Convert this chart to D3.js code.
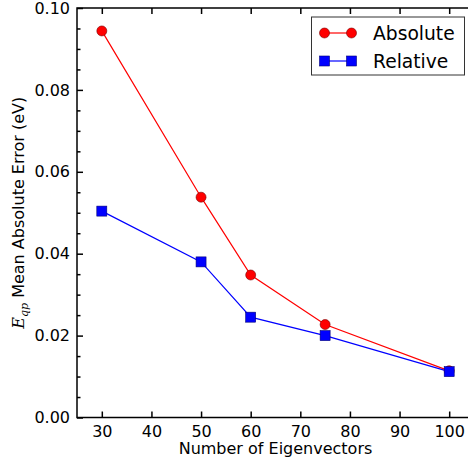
<!DOCTYPE html>
<html>
<head>
<meta charset="utf-8">
<script src="https://cdn.jsdelivr.net/npm/d3@7"></script>
<style>
body { margin: 0; background: #fff; }
text { font-family: "DejaVu Sans", sans-serif; fill: #000; }
</style>
</head>
<body>
<script>
const width = 468, height = 458;

const eigenvectors = [30, 50, 60, 75, 100];
const absoluteErr = [0.0944, 0.0538, 0.0348, 0.0227, 0.0114];
const relativeErr = [0.0504, 0.0380, 0.0245, 0.0200, 0.0112];
const xTicks = [30, 40, 50, 60, 70, 80, 90, 100];
const yTicks = [0.00, 0.02, 0.04, 0.06, 0.08, 0.10];
const seriesNames = ["Absolute", "Relative"];

const plotLeft = 77, plotTop = 8, plotRight = 474, plotBottom = 417.5;

const svg = d3.select("body").append("svg")
  .attr("width", width)
  .attr("height", height);

const scaleX = d3.scaleLinear().domain([25, 105]).range([plotLeft, plotRight]);
const scaleY = d3.scaleLinear().domain([0, 0.10]).range([plotBottom, plotTop]);

// frame
svg.append("rect")
  .attr("x", plotLeft).attr("y", plotTop)
  .attr("width", plotRight - plotLeft).attr("height", plotBottom - plotTop)
  .attr("fill", "none").attr("stroke", "#000").attr("stroke-width", 1.5);

// bottom axis (ticks inward)
const axisX = d3.axisBottom(scaleX).tickValues(xTicks).tickSizeInner(-6).tickSizeOuter(0).tickPadding(8);
svg.append("g")
  .attr("class", "axisX")
  .attr("transform", `translate(0, ${plotBottom})`)
  .call(axisX);

// top ticks
const axisTop = d3.axisTop(scaleX).tickValues(xTicks).tickSizeInner(-6).tickSizeOuter(0).tickFormat("");
svg.append("g")
  .attr("class", "axisTop")
  .attr("transform", `translate(0, ${plotTop})`)
  .call(axisTop);

// left axis
const axisY = d3.axisLeft(scaleY).tickValues(yTicks).tickSizeInner(-6).tickSizeOuter(0)
  .tickPadding(7).tickFormat(d3.format(".2f"));
svg.append("g")
  .attr("class", "axisY")
  .attr("transform", `translate(${plotLeft}, 0)`)
  .call(axisY);

// minor y ticks
const minorY = d3.range(0.005, 0.1, 0.005).filter(v => Math.abs(v / 0.02 - Math.round(v / 0.02)) > 1e-6);
svg.append("g")
  .attr("class", "minorY")
  .attr("transform", `translate(${plotLeft}, 0)`)
  .call(d3.axisLeft(scaleY).tickValues(minorY).tickSizeInner(-3.5).tickSizeOuter(0).tickFormat(""));

svg.selectAll(".domain").remove();
svg.selectAll(".tick line").attr("stroke", "#000").attr("stroke-width", 1.5);
svg.selectAll(".axisX text, .axisY text")
  .style("font-family", "DejaVu Sans, sans-serif")
  .style("font-size", "16px")
  .attr("fill", "#000");

// axis labels
svg.append("text")
  .attr("x", (plotLeft + plotRight) / 2)
  .attr("y", 453.5)
  .attr("text-anchor", "middle")
  .style("font-size", "16px")
  .text("Number of Eigenvectors");

const yl = svg.append("text")
  .attr("transform", `translate(24, ${(plotTop + plotBottom) / 2}) rotate(-90)`)
  .attr("text-anchor", "middle")
  .style("font-size", "16px");
yl.append("tspan").style("font-family", "DejaVu Serif, serif").style("font-style", "italic").text("E");
yl.append("tspan").attr("dy", 4).style("font-family", "DejaVu Serif, serif").style("font-style", "italic")
  .style("font-size", "11px").text("qp");
yl.append("tspan").attr("dy", -4).text(" Mean Absolute Error (eV)");

const line = d3.line()
  .x((d, i) => scaleX(eigenvectors[i]))
  .y(d => scaleY(d));

const colors = ["#ff0000", "#0000ff"];
const allSeries = [absoluteErr, relativeErr];

allSeries.forEach((vals, k) => {
  svg.append("path")
    .attr("d", line(vals))
    .attr("fill", "none")
    .attr("stroke", colors[k])
    .attr("stroke-width", 1.2);
});

// markers
svg.selectAll(".dotAbs")
  .data(absoluteErr)
  .enter()
  .append("circle")
  .attr("class", "dotAbs")
  .attr("cx", (d, i) => scaleX(eigenvectors[i]))
  .attr("cy", d => scaleY(d))
  .attr("r", 5)
  .attr("fill", colors[0])
  .attr("stroke", "#700")
  .attr("stroke-width", 0.6);

svg.selectAll(".dotRel")
  .data(relativeErr)
  .enter()
  .append("rect")
  .attr("class", "dotRel")
  .attr("x", (d, i) => scaleX(eigenvectors[i]) - 5)
  .attr("y", d => scaleY(d) - 5)
  .attr("width", 10)
  .attr("height", 10)
  .attr("fill", colors[1])
  .attr("stroke", "#007")
  .attr("stroke-width", 0.6);

// legend
const lg = svg.append("g").attr("transform", "translate(311.5, 17)");
lg.append("rect")
  .attr("x", 0).attr("y", 0)
  .attr("width", 153).attr("height", 58)
  .attr("fill", "#fff").attr("stroke", "#333").attr("stroke-width", 1);

seriesNames.forEach((name, k) => {
  const yy = 16 + k * 28;
  lg.append("line")
    .attr("x1", 13).attr("x2", 40).attr("y1", yy).attr("y2", yy)
    .attr("stroke", colors[k]).attr("stroke-width", 1.2);
  [13, 40].forEach(xx => {
    if (k === 0) {
      lg.append("circle").attr("cx", xx).attr("cy", yy).attr("r", 5)
        .attr("fill", colors[0]).attr("stroke", "#700").attr("stroke-width", 0.6);
    } else {
      lg.append("rect").attr("x", xx - 5).attr("y", yy - 5).attr("width", 10).attr("height", 10)
        .attr("fill", colors[1]).attr("stroke", "#007").attr("stroke-width", 0.6);
    }
  });
  lg.append("text")
    .attr("x", 61.5).attr("y", yy + 6.5)
    .style("font-size", "18.7px")
    .text(name);
});
</script>
</body>
</html>
